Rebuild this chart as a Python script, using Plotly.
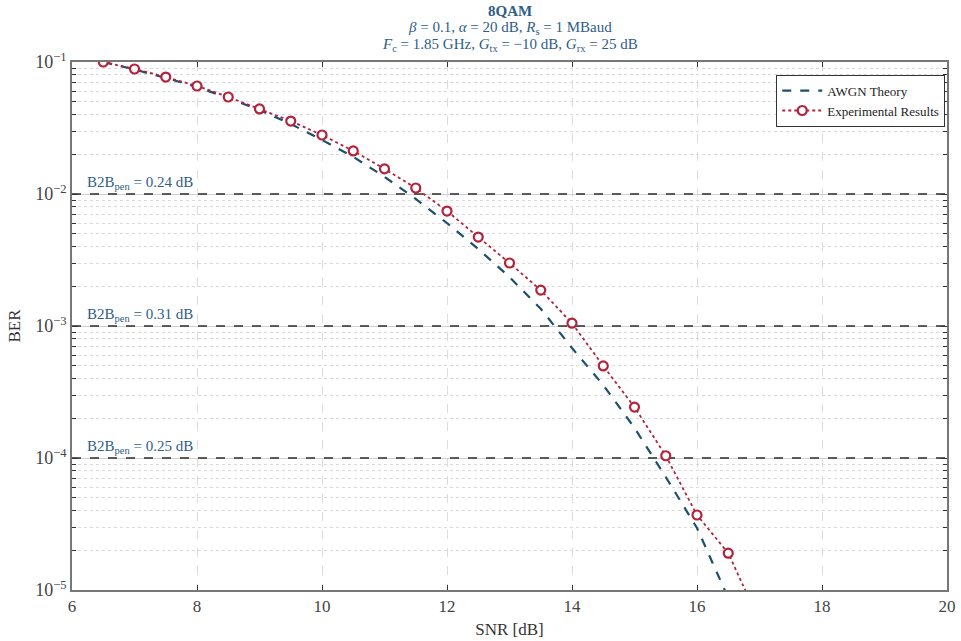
import math
import plotly.graph_objects as go

# --- data -------------------------------------------------------------
snr_theory = [6.5, 7.0, 7.5, 8.0, 8.5, 9.0, 9.5, 10.0, 10.5, 11.0, 11.5, 12.0,
              12.5, 13.0, 13.5, 14.0, 14.5, 15.0, 15.5, 16.0, 16.5]
ber_theory = [0.1, 0.0878, 0.0757, 0.0647, 0.0533, 0.0433, 0.0339, 0.0257,
              0.0191, 0.0135, 0.00917, 0.00603, 0.00383, 0.00235, 0.00135,
              0.000681, 0.000357, 0.000169, 7.18e-5, 2.95e-5, 8.7e-6]

snr_exp = [6.5, 7.0, 7.5, 8.0, 8.5, 9.0, 9.5, 10.0, 10.5, 11.0, 11.5, 12.0,
           12.5, 13.0, 13.5, 14.0, 14.5, 15.0, 15.5, 16.0, 16.5, 17.0]
ber_exp = [0.1, 0.0885, 0.0769, 0.0658, 0.0543, 0.0441, 0.0357, 0.028,
           0.0212, 0.0155, 0.0111, 0.00743, 0.00472, 0.0030, 0.00187,
           0.00105, 0.000498, 0.000243, 0.000104, 3.7e-5, 1.9e-5, 5.8e-6]

b2b_levels = [1e-2, 1e-3, 1e-4]
b2b_penalty_db = [0.24, 0.31, 0.25]

x_ticks = [6, 8, 10, 12, 14, 16, 18, 20]
y_ticks = [1e-5, 1e-4, 1e-3, 1e-2, 1e-1]
y_ticktext = ["10<sup>\u22125</sup>", "10<sup>\u22124</sup>", "10<sup>\u22123</sup>",
              "10<sup>\u22122</sup>", "10<sup>\u22121</sup>"]

title_lines = [
    "<b>8QAM</b>",
    "<i>\u03b2</i> = 0.1, <i>\u03b1</i> = 20 dB, <i>R</i><sub>s</sub> = 1 MBaud",
    "<i>F</i><sub>c</sub> = 1.85 GHz, <i>G</i><sub>tx</sub> = \u221210 dB, "
    "<i>G</i><sub>rx</sub> = 25 dB",
]

# --- style ------------------------------------------------------------
SERIF = "Liberation Serif, DejaVu Serif, serif"
TITLE_BLUE = "#2f5d86"
THEORY_COLOR = "#1d4f6e"
EXP_COLOR = "#b3233b"
X_RANGE = [6, 20]

fig = go.Figure()

# BER reference levels with B2B penalty labels
for lvl, pen in zip(b2b_levels, b2b_penalty_db):
    fig.add_trace(go.Scatter(
        x=X_RANGE, y=[lvl, lvl], mode="lines",
        line=dict(color="#2b2b2b", width=1.4, dash="dash"),
        showlegend=False, hoverinfo="skip"))
    fig.add_annotation(
        x=6.2, y=math.log10(lvl), xref="x", yref="y",
        xanchor="left", yanchor="bottom", yshift=0, showarrow=False,
        text=f"B2B<sub>pen</sub> = {pen:.2f} dB",
        font=dict(family=SERIF, size=15, color=TITLE_BLUE))

fig.add_trace(go.Scatter(
    x=snr_theory, y=ber_theory, mode="lines", name="AWGN Theory",
    line=dict(color=THEORY_COLOR, width=2.2, dash="dash")))

fig.add_trace(go.Scatter(
    x=snr_exp, y=ber_exp, mode="lines+markers", name="Experimental Results",
    line=dict(color=EXP_COLOR, width=1.8, dash="dot"),
    marker=dict(symbol="circle", size=9, color="white",
                line=dict(color=EXP_COLOR, width=2.2)),
    cliponaxis=True))

# three-line heading above the axes
for i, line in enumerate(title_lines):
    fig.add_annotation(
        x=0.5, y=1, xref="paper", yref="paper", xanchor="center",
        yanchor="middle", yshift=51 - 17 * i, showarrow=False, text=line,
        font=dict(family=SERIF, size=15, color=TITLE_BLUE))

fig.update_layout(
    width=961, height=641,
    margin=dict(l=72, r=14, t=62, b=51, autoexpand=False),
    paper_bgcolor="white", plot_bgcolor="white",
    font=dict(family=SERIF, size=14, color="#333333"),
    legend=dict(x=0.998, y=0.976, xanchor="right", yanchor="top",
                bgcolor="white", bordercolor="#333333", borderwidth=1,
                font=dict(family=SERIF, size=13, color="#222222"),
                tracegroupgap=0, itemwidth=40),
    showlegend=True,
)

fig.update_xaxes(
    range=X_RANGE, tickvals=x_ticks, ticks="inside", ticklen=5,
    tickcolor="#333333", showline=True, linecolor="#777777", linewidth=1.5,
    mirror="ticks", showgrid=True, gridcolor="#dcdcdc", griddash="dash",
    gridwidth=1, zeroline=False, automargin=False,
    tickfont=dict(family=SERIF, size=17, color="#444444"),
    title=dict(text="SNR [dB]", standoff=8,
               font=dict(family=SERIF, size=17, color="#333333")),
)

fig.update_yaxes(
    type="log", range=[-5, -1], tickvals=y_ticks, ticktext=y_ticktext,
    ticks="inside", ticklen=6, tickcolor="#333333",
    showline=True, linecolor="#777777", linewidth=1.5, mirror="ticks",
    showgrid=True, gridcolor="#d0d0d0", gridwidth=1, zeroline=False,
    automargin=False,
    minor=dict(dtick="D1", ticks="inside", ticklen=4, tickcolor="#333333",
               showgrid=True, gridcolor="#dadada", griddash="dot", gridwidth=1),
    tickfont=dict(family=SERIF, size=18, color="#444444"),
    title=dict(text="BER", standoff=10,
               font=dict(family=SERIF, size=17, color="#333333")),
)

fig.write_html("out.html")
